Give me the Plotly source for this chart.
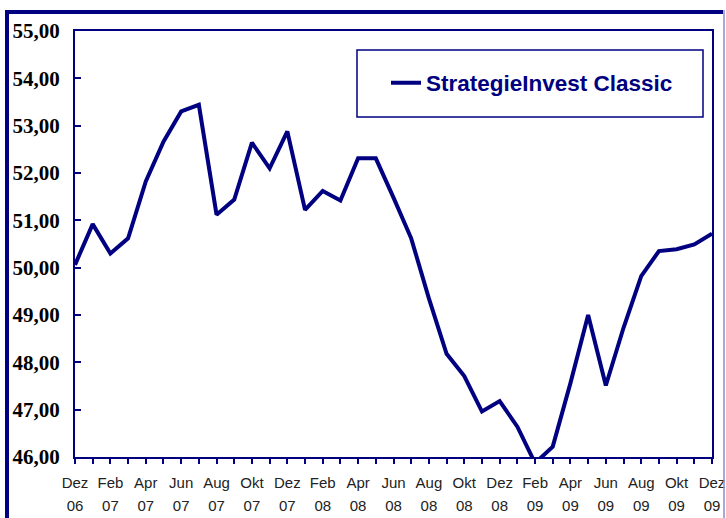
import plotly.graph_objects as go

W, H = 726, 518

months = ["Dez", "Jan", "Feb", "Mrz", "Apr", "Mai", "Jun", "Jul", "Aug", "Sep", "Okt", "Nov"]
years = ["06"] + ["07"] * 12 + ["08"] * 12 + ["09"] * 12
month_names = [months[i % 12] for i in range(37)]
categories = [f"{m} {y}" for m, y in zip(month_names, years)]

values = [50.06, 50.92, 50.30, 50.62, 51.82, 52.66, 53.30, 53.44, 51.12, 51.44,
          52.64, 52.10, 52.88, 51.22, 51.62, 51.42, 52.31, 52.31, 51.48, 50.62,
          49.35, 48.18, 47.71, 46.96, 47.18, 46.64, 45.87, 46.22, 47.56, 49.00,
          47.51, 48.73, 49.82, 50.35, 50.39, 50.49, 50.72]

series_name = "StrategieInvest Classic"
y_ticks = [46, 47, 48, 49, 50, 51, 52, 53, 54, 55]

month_text = [m if i % 2 == 0 else "" for i, m in enumerate(month_names)]
year_text = [y if i % 2 == 0 else "" for i, y in enumerate(years)]

NAVY = "#000080"

def px(x):
    return x / W

def py(y):
    return 1 - y / H

fig = go.Figure()
fig.add_trace(go.Scatter(x=categories, y=values, mode="lines", name=series_name,
                         line=dict(color=NAVY, width=4), xaxis="x", yaxis="y"))
# helper trace to carry the year tick row
fig.add_trace(go.Scatter(x=categories, y=values, mode="lines", showlegend=False,
                         line=dict(color="rgba(0,0,0,0)", width=0), hoverinfo="skip",
                         xaxis="x2", yaxis="y"))

xdom = [px(75), px(712)]
ydom = [py(457), py(31)]
tickfont = dict(family="Liberation Sans, Arial", size=15, color="#222222")

fig.update_layout(
    width=W, height=H,
    margin=dict(l=0, r=0, t=0, b=0, autoexpand=False),
    paper_bgcolor="white", plot_bgcolor="white",
    separators=",.",
    showlegend=True,
    legend=dict(x=px(386), y=py(83), xanchor="left", yanchor="middle",
                bgcolor="rgba(0,0,0,0)", borderwidth=0,
                font=dict(family="Liberation Sans, Arial", size=22.5, color=NAVY,
                          weight="bold")),
    xaxis=dict(domain=xdom, type="category", categoryorder="array", categoryarray=categories,
               range=[0, 36], tickmode="array", tickvals=categories, ticktext=month_text,
               ticks="outside", ticklen=5, tickwidth=1.5, tickcolor=NAVY,
               showline=True, linecolor=NAVY, linewidth=2, mirror=True,
               showgrid=False, zeroline=False, tickangle=0, automargin=False,
               tickfont=tickfont, ticklabelstandoff=6, anchor="y"),
    xaxis2=dict(domain=xdom, type="category", categoryorder="array", categoryarray=categories,
                range=[0, 36], overlaying="x", side="bottom", anchor="y",
                tickmode="array", tickvals=categories, ticktext=year_text,
                ticks="", showline=False, showgrid=False, zeroline=False, tickangle=0,
                automargin=False, tickfont=tickfont, ticklabelstandoff=38),
    yaxis=dict(domain=ydom, range=[46, 55], tickmode="array", tickvals=y_ticks,
               tickformat=".2f", ticks="inside", ticklen=6, tickwidth=1.5, tickcolor=NAVY,
               showline=True, linecolor=NAVY, linewidth=2, mirror=True,
               showgrid=False, zeroline=False, automargin=False,
               tickfont=dict(family="Liberation Serif, Times New Roman", size=21,
                             color="black", weight="bold"),
               ticklabelstandoff=9),
    shapes=[
        # legend box
        dict(type="rect", xref="paper", yref="paper", x0=px(357), x1=px(703),
             y0=py(117), y1=py(50), line=dict(color=NAVY, width=1.5)),
        # outer frame
        dict(type="line", xref="paper", yref="paper", x0=px(7), x1=px(7),
             y0=py(12), y1=0, line=dict(color=NAVY, width=4)),
        dict(type="line", xref="paper", yref="paper", x0=px(5), x1=px(723),
             y0=py(12), y1=py(12), line=dict(color=NAVY, width=4)),
        dict(type="line", xref="paper", yref="paper", x0=px(724), x1=px(724),
             y0=py(10), y1=0, line=dict(color="#8c8cc8", width=1.5)),
    ],
)

fig.write_html("out.html")
